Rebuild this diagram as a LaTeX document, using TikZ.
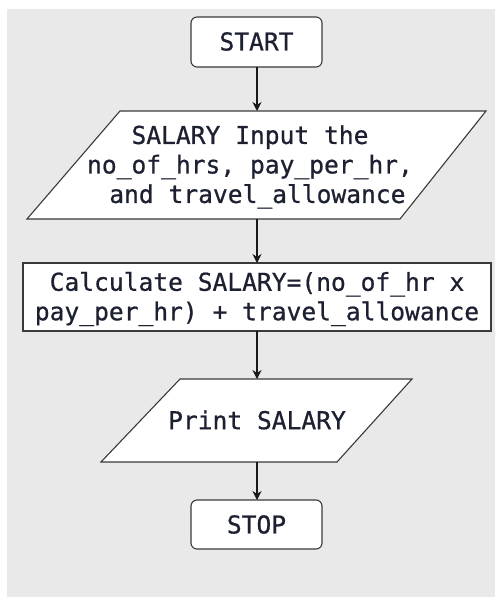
\documentclass[tikz,border=0pt]{standalone}
\usepackage{fontspec}
\setmonofont[FakeBold=0.7]{DejaVu Sans Mono}
\usetikzlibrary{arrows.meta}
\definecolor{panel}{HTML}{E9E9E9}
\definecolor{edge}{HTML}{3A3A3A}
\definecolor{ink}{HTML}{1C2030}
\tikzset{
  shapeline/.style={draw=edge, line width=1.1pt, fill=white},
  label/.style={font=\fontsize{24.6}{29.5}\selectfont\ttfamily, text=ink, align=center, inner sep=0pt},
  flow/.style={draw=black!90, line width=1.2pt, -{Stealth[length=9pt,width=9pt]}}
}
\begin{document}
\begin{tikzpicture}[x=1pt,y=-1pt]
  \useasboundingbox (0,0) rectangle (495,597);
  \fill[white] (0,0) rectangle (495,597);
  \fill[panel] (7,9) rectangle (495,597);

  % terminal boxes
  \draw[shapeline, rounded corners=6pt] (191,17) rectangle (322,67);
  \node[label] (start) at (256.5,41.5) {START};
  \coordinate (startb) at (257,67);

  % input parallelogram
  \draw[shapeline] (120,111) -- (486,111) -- (400,219) -- (27,219) -- cycle;
  \node[label] (input) at (250,167) {SALARY Input the\\no\_of\_hrs, pay\_per\_hr,\\\ and travel\_allowance};
  \coordinate (inputt) at (257,111);
  \coordinate (inputb) at (257,219);

  % process box
  \draw[shapeline] (23,263) rectangle (491,331);
  \node[label] (calc) at (257,299) {Calculate SALARY=(no\_of\_hr x\\pay\_per\_hr) + travel\_allowance};
  \coordinate (calct) at (257,263);
  \coordinate (calcb) at (257,331);

  % output parallelogram
  \draw[shapeline] (180,379) -- (412,379) -- (337,462) -- (101,462) -- cycle;
  \node[label] (print) at (257,420) {Print SALARY};
  \coordinate (printt) at (257,379);
  \coordinate (printb) at (257,462);

  % stop box
  \draw[shapeline, rounded corners=6pt] (191,500) rectangle (322,549);
  \node[label] (stop) at (256.5,524.5) {STOP};
  \coordinate (stopt) at (257,500);

  % connectors
  \draw[flow] (startb) -- (inputt);
  \draw[flow] (inputb) -- (calct);
  \draw[flow] (calcb) -- (printt);
  \draw[flow] (printb) -- (stopt);
\end{tikzpicture}
\end{document}
